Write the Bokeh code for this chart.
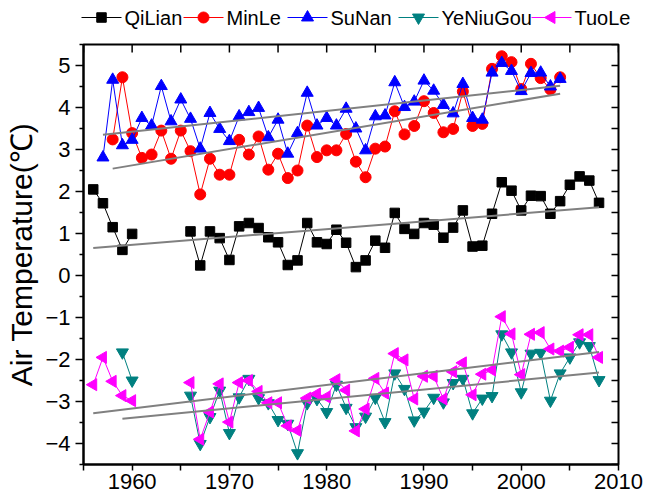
import numpy as np
from bokeh.plotting import figure
from bokeh.layouts import column
from bokeh.models import Range1d, LinearAxis, FixedTicker, ColumnDataSource
from bokeh.core.properties import value
from bokeh.embed import file_html
from bokeh.resources import INLINE

NA = np.nan

# Annual mean air temperature (deg C) per station
qilian_years = list(range(1956, 2009))
qilian_vals = [2.05, 1.72, 1.15, 0.61, 0.99, NA, NA, NA, NA, NA,
               1.05, 0.24, 1.05, 0.89, 0.37, 1.17, 1.25, 1.13, 0.91, 0.79,
               0.25, 0.36, 1.25, 0.79, 0.75, 1.09, 0.78, 0.20, 0.36, 0.83,
               0.66, 1.49, 1.11, 0.99, 1.25, 1.21, 0.90, 1.14, 1.55, 0.69,
               0.71, 1.47, 2.22, 2.02, 1.55, 1.90, 1.89, 1.47, 1.77, 2.16,
               2.36, 2.26, 1.73]

minle_years = list(range(1958, 2005))
minle_vals = [3.24, 4.72, 3.39, 2.80, 2.88, 3.45, 2.78, 3.45, 2.96, 1.93,
              2.78, 2.40, 2.40, 3.23, 2.88, 3.31, 2.52, 2.90, 2.32, 2.50,
              3.57, 2.82, 2.98, 2.98, 3.37, 2.71, 2.34, 3.02, 3.07, 3.91,
              3.36, 3.56, 4.15, 3.87, 3.41, 3.49, 4.38, 3.56, 3.61, 4.92,
              5.22, 5.08, 4.44, 5.04, 4.70, 4.43, 4.72]

sunan_years = list(range(1957, 2005))
sunan_vals = [2.81, 4.66, 3.10, 3.23, 3.75, 3.57, 4.51, 3.67, 4.19, 3.73,
              3.02, 3.87, 3.49, 3.20, 3.79, 3.89, 3.99, 3.29, 3.71, 2.90,
              3.39, 4.35, 3.57, 3.75, 3.57, 3.97, 3.50, 2.98, 3.79, 3.81,
              4.60, 4.01, 4.14, 4.64, 4.40, 4.06, 3.86, 4.56, 3.75, 3.71,
              4.83, 5.06, 4.87, 4.39, 4.82, 4.83, 4.50, 4.68]

yeniugou_years = list(range(1959, 2009))
yeniugou_vals = [-1.83, -2.50, NA, NA, NA, NA, NA, -2.86, -4.01, -3.37,
                 -2.74, -3.75, -2.90, -2.46, -2.92, -3.04, -3.44, -3.53, -4.23, -3.04,
                 -2.94, -3.25, -2.60, -3.15, -3.61, -3.36, -2.91, -3.49, -2.33, -2.70,
                 -3.45, -3.24, -2.91, -3.02, -2.56, -2.46, -3.28, -2.93, -2.87, -1.40,
                 -1.83, -2.78, -1.86, -1.84, -2.98, -2.33, -1.95, -1.59, -1.68, -2.49]

tuole_years = list(range(1956, 2009))
tuole_vals = [-2.60, -1.95, -2.52, -2.86, -2.98, NA, NA, NA, NA, NA,
              -2.55, -3.90, -3.25, -2.58, -3.49, -2.55, -2.50, -2.76, -3.03, -3.03,
              -3.58, -3.69, -2.92, -2.82, -2.89, -2.48, -2.73, -3.70, -3.18, -2.45,
              -2.80, -1.86, -2.01, -2.94, -2.40, -2.40, -2.94, -2.29, -2.08, -2.84,
              -2.35, -2.25, -0.98, -1.39, -2.36, -1.40, -1.36, -1.75, -1.80, -1.71,
              -1.41, -1.41, -1.95]

station_names = ["QiLian", "MinLe", "SuNan", "YeNiuGou", "TuoLe"]

x_ticks = [1960, 1970, 1980, 1990, 2000, 2010]
x_minor = [1955, 1965, 1975, 1985, 1995, 2005]
y_ticks = [-4, -3, -2, -1, 0, 1, 2, 3, 4, 5]
y_minor = [-4.5, -3.5, -2.5, -1.5, -0.5, 0.5, 1.5, 2.5, 3.5, 4.5, 5.5]

X_LO, X_HI = 1955, 2010
Y_LO, Y_HI = -4.5, 5.5
FONT = "Liberation Sans"
W = 651
KEY_H = 36          # height of the key strip above the chart
MAIN_H = 498 - KEY_H

# marker styling per station: colour, marker, size, rotation
styles = [
    ("black", "square", 9.5, 0.0),
    ("#FF0000", "circle", 11, 0.0),
    ("#0000FF", "triangle", 12, 0.0),
    ("#008080", "inverted_triangle", 12, 0.0),
    ("#FF00FF", "triangle", 12, np.pi / 2),
]
series_years = [qilian_years, minle_years, sunan_years, yeniugou_years, tuole_years]
series_vals = [qilian_vals, minle_vals, sunan_vals, yeniugou_vals, tuole_vals]

p = figure(width=W, height=MAIN_H, output_backend="svg", toolbar_location=None,
           x_range=Range1d(X_LO, X_HI), y_range=Range1d(Y_LO, Y_HI),
           x_axis_location=None, y_axis_location=None,
           min_border_left=83, min_border_right=33,
           min_border_top=8, min_border_bottom=34)
p.frame_align = False
p.outline_line_color = "black"
p.outline_line_width = 2
p.background_fill_color = "white"
p.border_fill_color = "white"
p.grid.visible = False


def style_axis(ax, tick_out, minor_out, standoff):
    ax.axis_line_color = "black"
    ax.axis_line_width = 2
    ax.major_tick_line_color = "black"
    ax.major_tick_line_width = 1.5
    ax.minor_tick_line_color = "black"
    ax.minor_tick_line_width = 1.5
    ax.major_tick_in = 0
    ax.major_tick_out = tick_out
    ax.minor_tick_in = 0
    ax.minor_tick_out = minor_out
    ax.major_label_text_font = FONT
    ax.major_label_text_color = "black"
    ax.major_label_text_font_size = "22px"
    ax.major_label_standoff = standoff


xb = LinearAxis(ticker=FixedTicker(ticks=x_ticks, minor_ticks=x_minor))
style_axis(xb, 6, 6, 3)
p.add_layout(xb, "below")

yl = LinearAxis(ticker=FixedTicker(ticks=y_ticks, minor_ticks=y_minor),
                axis_label="Air Temperature(℃)")
style_axis(yl, 8, 4, 5)
yl.axis_label_text_font = FONT
yl.axis_label_text_font_size = "30px"
yl.axis_label_text_font_style = "normal"
yl.axis_label_text_color = "black"
yl.axis_label_standoff = 4
p.add_layout(yl, "left")

# inward ticks on the top and right frame edges (half of each dash is clipped away)
p.scatter(x_ticks + x_minor, [Y_HI] * len(x_ticks + x_minor), marker="dash",
          angle=np.pi / 2, size=16, line_color="black", line_width=1.5)
p.scatter([X_HI] * len(y_ticks + y_minor), y_ticks + y_minor, marker="dash",
          size=14, line_color="black", line_width=1.5)

fits = []
for yrs, vals, (color, marker, size, ang) in zip(series_years, series_vals, styles):
    src = ColumnDataSource(dict(x=yrs, y=vals))
    p.line("x", "y", source=src, line_color=color, line_width=1)
    p.scatter("x", "y", source=src, marker=marker, size=size, angle=ang,
              fill_color=color, line_color=color)
    # least-squares linear trend over the available years
    xa = np.array(yrs, dtype=float)
    ya = np.array(vals, dtype=float)
    ok = ~np.isnan(ya)
    k, b = np.polyfit(xa[ok], ya[ok], 1)
    x0, x1 = xa[ok][0], xa[ok][-1]
    fits.append(([x0, x1], [k * x0 + b, k * x1 + b]))

for fx, fy in fits:
    p.line(fx, fy, line_color="#808080", line_width=2)

# key strip: sample line + marker + station name, laid out in pixel units
key = figure(width=W, height=KEY_H, output_backend="svg", toolbar_location=None,
             x_range=Range1d(0, W), y_range=Range1d(0, KEY_H),
             x_axis_location=None, y_axis_location=None,
             min_border_left=0, min_border_right=0,
             min_border_top=0, min_border_bottom=0)
key.frame_align = False
key.outline_line_color = None
key.grid.visible = False
key.background_fill_color = "white"
key.border_fill_color = "white"

key_x = [81, 183, 287, 398, 531]   # left end of each sample line
key_y = KEY_H - 17
SAMPLE = 40
for name, kx, (color, marker, size, ang) in zip(station_names, key_x, styles):
    key.line([kx, kx + SAMPLE], [key_y, key_y], line_color=color, line_width=1)
    key.scatter([kx + SAMPLE / 2], [key_y], marker=marker, size=size, angle=ang,
                fill_color=color, line_color=color)
    key.text([kx + SAMPLE + 3], [key_y], text=[name], text_font=value(FONT),
             text_font_size="20px", text_baseline="middle", text_align="left",
             text_color="black")

open("out.html", "w").write(file_html(column(key, p, spacing=0), INLINE))
